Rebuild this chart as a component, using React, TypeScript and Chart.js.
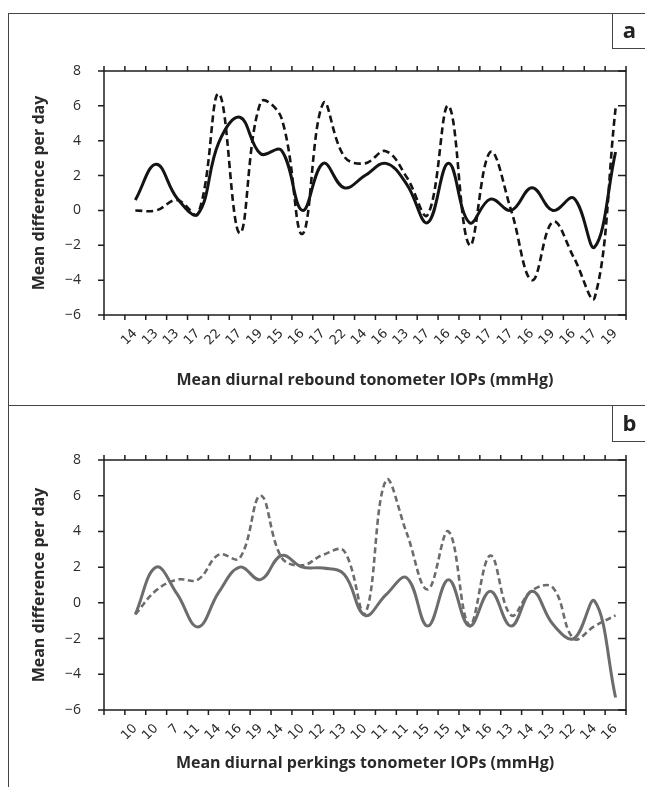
import React, { useEffect, useRef } from 'react';
import { Chart, registerables } from 'chart.js';
Chart.register(...registerables);

const labelsA = ['', '14', '13', '13', '17', '22', '17', '19', '15', '16', '17', '22', '14', '16', '13', '17', '16', '18', '17', '17', '16', '19', '16', '17', '19'];
const solidA = [null, 0.6, 2.65, 0.7, -0.2, 3.9, 5.35, 3.25, 3.45, 0, 2.7, 1.3, 2.0, 2.7, 1.5, -0.7, 2.7, -0.7, 0.65, 0, 1.3, 0, 0.7, -2.1, 3.35];
const dashedA = [null, 0, 0, 0.6, -0.2, 6.7, -1.3, 6.2, 5.3, -1.35, 6.15, 3.1, 2.7, 3.4, 1.9, -0.25, 6.0, -2.0, 3.35, 0, -4.0, -0.65, -2.7, -5.0, 5.85];

const labelsB = ['', '10', '10', '7', '11', '14', '16', '19', '14', '10', '12', '13', '10', '11', '11', '15', '15', '14', '16', '13', '14', '13', '12', '14', '16'];
const solidB = [null, -0.65, 2.0, 0.5, -1.35, 0.6, 2.0, 1.3, 2.65, 2.0, 1.95, 1.6, -0.7, 0.45, 1.4, -1.3, 1.3, -1.3, 0.65, -1.3, 0.65, -1.2, -2.0, 0.1, -5.3];
const dashedB = [null, -0.65, 0.7, 1.3, 1.3, 2.7, 2.5, 6.0, 2.55, 2.1, 2.7, 2.9, -0.6, 6.85, 3.9, 0.75, 4.0, -1.25, 2.65, -0.7, 0.7, 0.85, -2.0, -1.3, -0.7];

const yTicks = [-6, -4, -2, 0, 2, 4, 6, 8];
const titleY = 'Mean difference per day';
const titleXA = 'Mean diurnal rebound tonometer IOPs (mmHg)';
const titleXB = 'Mean diurnal perkings tonometer IOPs (mmHg)';

const AXIS = '#1e1e1e';
const TEXT = '#2a2a2a';

const framePlugin = {
  id: 'frameTicks',
  afterDraw(chart: any) {
    const { ctx, chartArea, scales } = chart;
    const { left, right, top, bottom } = chartArea;
    const xs = scales.x;
    const ys = scales.y;
    ctx.save();
    ctx.strokeStyle = AXIS;
    ctx.lineWidth = 1.5;
    ctx.beginPath();
    ctx.rect(left, top, right - left, bottom - top);
    ctx.stroke();
    ctx.beginPath();
    const n = xs.getLabels().length;
    for (let i = 0; i <= n; i++) {
      const px = xs.getPixelForValue(i - 0.5);
      ctx.moveTo(px, bottom);
      ctx.lineTo(px, bottom + 5);
      ctx.moveTo(px, top);
      ctx.lineTo(px, top - 5);
    }
    for (const v of yTicks) {
      const py = ys.getPixelForValue(v);
      ctx.moveTo(left, py);
      ctx.lineTo(left - 6, py);
      ctx.moveTo(right, py);
      ctx.lineTo(right - 8, py);
    }
    ctx.stroke();
    ctx.restore();
  },
};

type PanelProps = {
  labels: string[];
  solid: (number | null)[];
  dashed: (number | null)[];
  color: string;
  xTitle: string;
  width: number;
  height: number;
  topPad: number;
  xHeight: number;
  xTitlePad: number;
  dash: number[];
};

function Panel(p: PanelProps) {
  const ref = useRef<HTMLCanvasElement | null>(null);
  useEffect(() => {
    if (!ref.current) return;
    const chart = new Chart(ref.current, {
      type: 'line',
      data: {
        labels: p.labels,
        datasets: [
          {
            data: p.solid,
            borderColor: p.color,
            borderWidth: 3,
            pointRadius: 0,
            tension: 0.4,
            fill: false,
          },
          {
            data: p.dashed,
            borderColor: p.color,
            borderWidth: 2.6,
            borderDash: p.dash,
            pointRadius: 0,
            tension: 0.4,
            fill: false,
          },
        ],
      },
      options: {
        animation: false,
        responsive: false,
        events: [],
        layout: { padding: { top: p.topPad, right: 19, left: 0, bottom: 0 } },
        plugins: { legend: { display: false }, tooltip: { enabled: false }, title: { display: false } },
        scales: {
          x: {
            type: 'category',
            offset: true,
            grid: { display: false, offset: true },
            border: { display: false },
            ticks: {
              autoSkip: false,
              minRotation: 45,
              maxRotation: 45,
              color: TEXT,
              padding: 3,
              font: { family: 'DejaVu Sans', size: 13 },
            },
            title: {
              display: true,
              text: p.xTitle,
              color: TEXT,
              font: { family: 'Open Sans', size: 16, weight: 'bold' },
              padding: { top: 0, bottom: p.xTitlePad },
            },
            afterFit: (s: any) => {
              s.height = p.xHeight;
            },
          },
          y: {
            min: -6,
            max: 8,
            grid: { display: false },
            border: { display: false },
            ticks: {
              stepSize: 2,
              color: TEXT,
              padding: 15,
              font: { family: 'Open Sans', size: 14 },
              callback: (v: any) => (Number(v) < 0 ? '\u2212' + Math.abs(Number(v)) : String(v)),
            },
            title: {
              display: true,
              text: titleY,
              color: TEXT,
              font: { family: 'Open Sans', size: 16, weight: 'bold' },
              padding: { top: 21, bottom: 0 },
            },
            afterFit: (s: any) => {
              s.width = 95;
            },
          },
        },
      },
      plugins: [framePlugin],
    } as any);
    return () => chart.destroy();
  }, []);
  return <canvas ref={ref} width={p.width} height={p.height} style={{ display: 'block' }} />;
}

const line = '1px solid #444';

export default function App() {
  return (
    <div style={{ position: 'absolute', left: 0, top: 0, width: 645, height: 787, background: '#fff', overflow: 'hidden' }}>
      <div style={{ position: 'absolute', left: 8, top: 13, width: 0, height: 774, borderLeft: line }} />
      <div style={{ position: 'absolute', left: 8, top: 13, width: 637, height: 0, borderTop: line }} />
      <div style={{ position: 'absolute', left: 8, top: 405, width: 637, height: 0, borderTop: line }} />
      <div style={{ position: 'absolute', left: 9, top: 14 }}>
        <Panel labels={labelsA} solid={solidA} dashed={dashedA} color="#141414" xTitle={titleXA}
          width={636} height={391} topPad={57} xHeight={90} xTitlePad={15} dash={[7, 4]} />
      </div>
      <div style={{ position: 'absolute', left: 9, top: 406 }}>
        <Panel labels={labelsB} solid={solidB} dashed={dashedB} color="#6c6c6c" xTitle={titleXB}
          width={636} height={381} topPad={54} xHeight={77} xTitlePad={14} dash={[6, 3.5]} />
      </div>
      <div style={{ position: 'absolute', left: 612, top: 13, width: 33, height: 35, borderLeft: line, borderBottom: line,
        fontFamily: 'Open Sans', fontWeight: 'bold', fontSize: 22, color: '#222', textAlign: 'center', lineHeight: '33px' }}>a</div>
      <div style={{ position: 'absolute', left: 612, top: 405, width: 33, height: 36, borderLeft: line, borderBottom: line,
        fontFamily: 'Open Sans', fontWeight: 'bold', fontSize: 22, color: '#222', textAlign: 'center', lineHeight: '34px' }}>b</div>
    </div>
  );
}
